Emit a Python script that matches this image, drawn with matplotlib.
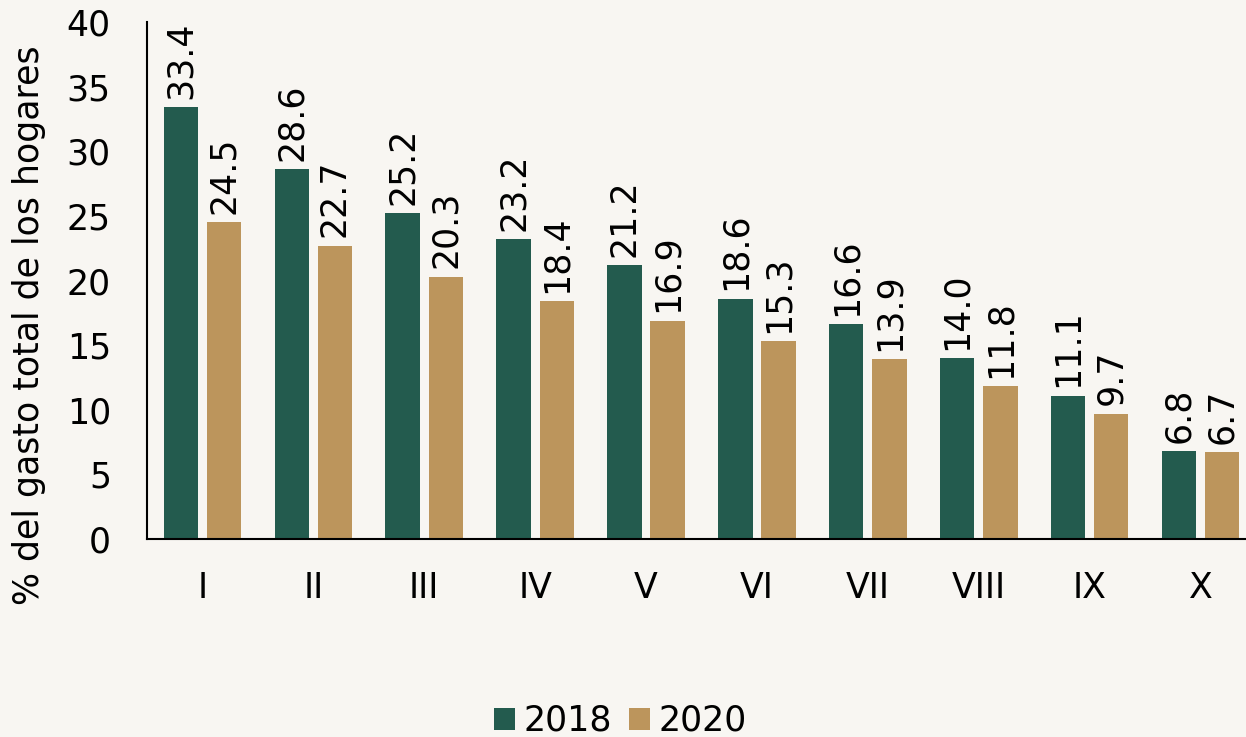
import matplotlib.pyplot as plt
import numpy as np

deciles = ["I", "II", "III", "IV", "V", "VI", "VII", "VIII", "IX", "X"]
gasto2018 = [33.4, 28.6, 25.2, 23.2, 21.2, 18.6, 16.6, 14.0, 11.1, 6.8]
gasto2020 = [24.5, 22.7, 20.3, 18.4, 16.9, 15.3, 13.9, 11.8, 9.7, 6.7]

colorVerde = "#235B4E"
colorOro = "#BC955C"
fondo = "#f8f6f2"

plt.rcParams["font.family"] = "DejaVu Sans"

fig = plt.figure(figsize=(12.46, 7.37), dpi=100, facecolor=fondo)
ax = fig.add_axes([0.118, 0.2687, 0.882, 0.7013])
ax.set_facecolor(fondo)

x = np.arange(len(deciles))
w = 0.31
b1 = ax.bar(x - 0.195, gasto2018, w, color=colorVerde, label="2018")
b2 = ax.bar(x + 0.195, gasto2020, w, color=colorOro, label="2020")

for bars, vals in ((b1, gasto2018), (b2, gasto2020)):
    for rect, v in zip(bars, vals):
        ax.annotate(f"{v:.1f}", (rect.get_x() + rect.get_width() / 2, v),
                    xytext=(0, 6), textcoords="offset points",
                    rotation=90, ha="center", va="bottom", fontsize=25)

ax.set_ylim(0, 40)
ax.set_xlim(-0.5, 9.41)
ax.set_yticks(range(0, 41, 5))
ax.set_xticks(x)
ax.set_xticklabels(deciles)
ax.tick_params(axis="both", length=0, labelsize=25)
ax.tick_params(axis="x", pad=23)
ax.tick_params(axis="y", pad=26)

for s in ("top", "right"):
    ax.spines[s].set_visible(False)
ax.spines["left"].set_linewidth(1.5)
ax.spines["bottom"].set_linewidth(1.5)

ax.set_ylabel("% del gasto total de los hogares", fontsize=25)
ax.yaxis.set_label_coords(-0.092, 0.414)

fig.legend(handles=[b1, b2], loc="center", bbox_to_anchor=(0.498, 0.022),
           ncol=2, frameon=False, fontsize=25, handlelength=0.6,
           handleheight=0.6, handletextpad=0.25, columnspacing=0.5)

fig.savefig("out.png", dpi=100, facecolor=fondo)
